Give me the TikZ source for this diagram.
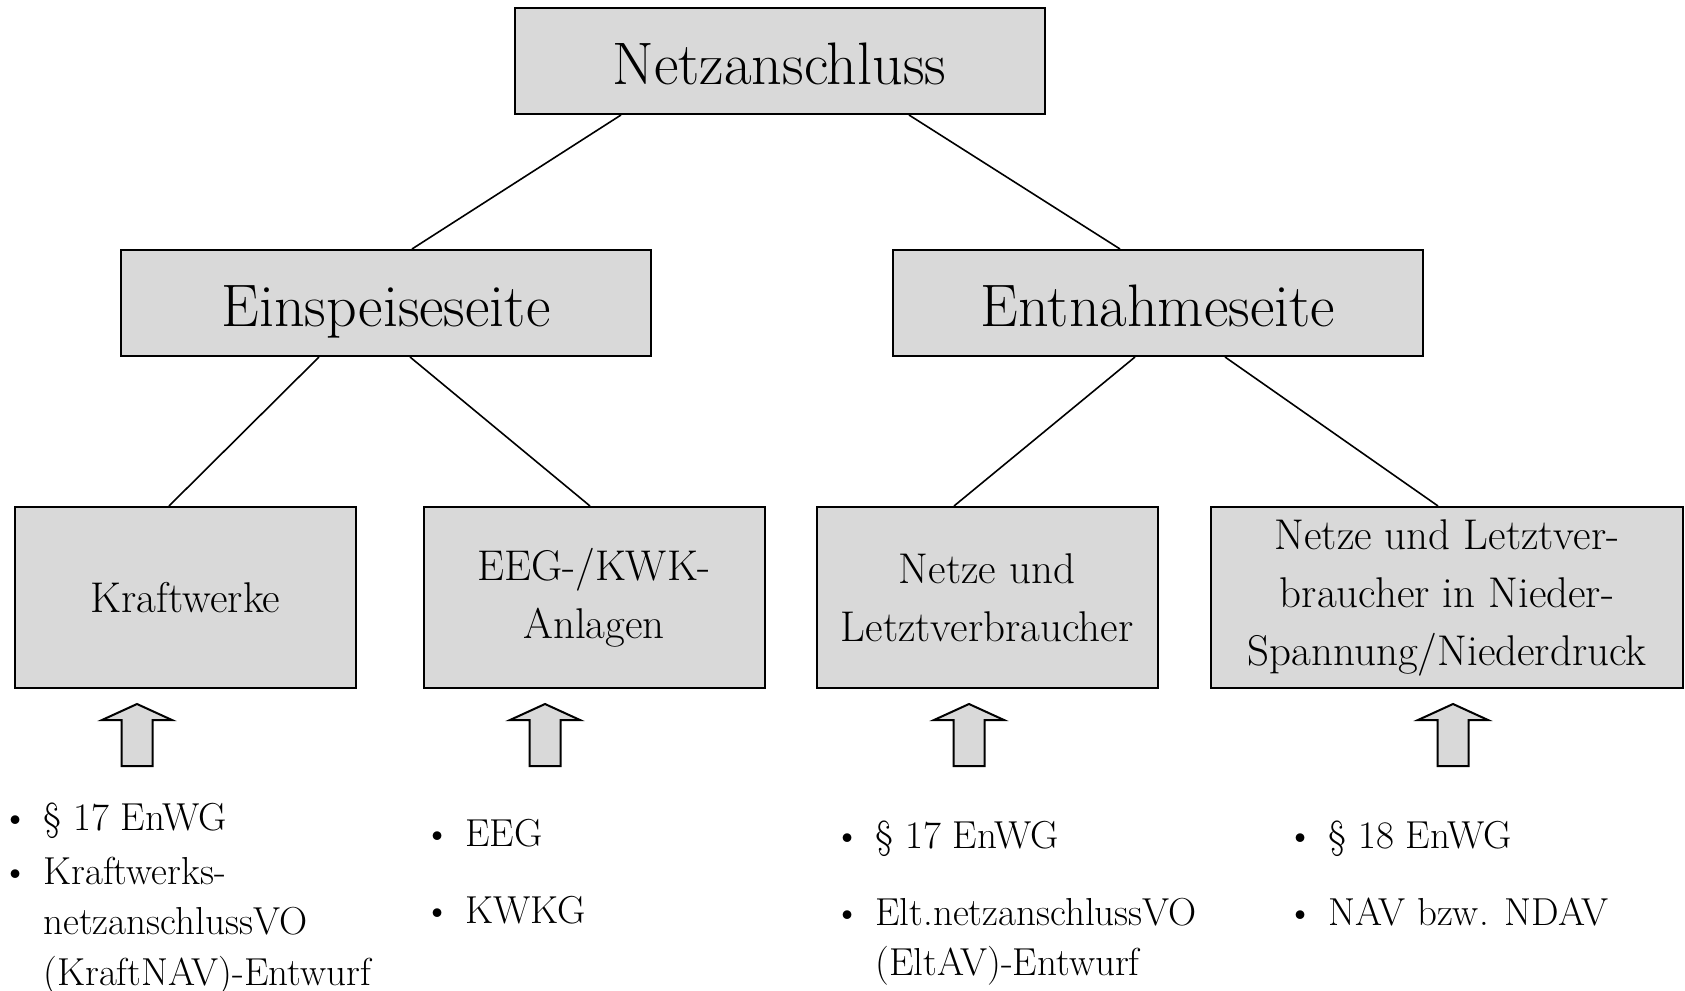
\documentclass[tikz,border=0pt]{standalone}
\usepackage{fontspec}
\begin{document}
\begin{tikzpicture}[x=0.5pt,y=-0.5pt,
  boxgray/.style={fill={rgb,255:red,217;green,217;blue,217}},
  bigbox/.style={draw, boxgray, line width=1pt, inner sep=0pt, align=center,
    minimum width=265pt, minimum height=53pt, text height=23pt, text depth=0pt,
    font=\fontsize{30}{36}\selectfont},
  smallbox/.style={draw, boxgray, line width=1pt, inner sep=0pt, align=center,
    minimum width=170.5pt, minimum height=90.5pt, font=\fontsize{21.5}{29}\selectfont},
  conn/.style={line width=0.8pt},
  uparrow/.style={draw, boxgray, line width=1pt, line join=miter},
  bul/.style={anchor=base, inner sep=0pt, font=\fontsize{19.5}{25.5}\selectfont},
  item/.style={anchor=base west, inner sep=0pt, font=\fontsize{19.5}{25.5}\selectfont}]
\useasboundingbox (0,0) rectangle (1685,990);

% boxes
\node[bigbox] (top) at (779.5,61) {Netzanschluss};
\node[bigbox] (ein) at (386,303) {Einspeiseseite};
\node[bigbox] (ent) at (1158,303) {Entnahmeseite};
\node[smallbox] (kw) at (185.5,597.5) {Kraftwerke};
\node[smallbox] (eeg) at (594,597.5) {EEG-/KWK-\\Anlagen};
\node[smallbox] (nl) at (987,597.5) {Netze und\\Letztverbraucher};
\node[smallbox, minimum width=236pt] (ns) at (1447,597.5) {Netze und Letztver-\\braucher in Nieder-\\Spannung/Niederdruck};

% connectors
\draw[conn] ([xshift=-79.25pt]top.south) -- ([xshift=13pt]ein.north);
\draw[conn] ([xshift=64.75pt]top.south) -- ([xshift=-19pt]ent.north);
\draw[conn] ([xshift=-33.5pt]ein.south) -- ([xshift=-8.25pt]kw.north);
\draw[conn] ([xshift=12pt]ein.south) -- ([xshift=-2pt]eeg.north);
\draw[conn] ([xshift=-11.5pt]ent.south) -- ([xshift=-16.5pt]nl.north);
\draw[conn] ([xshift=33.5pt]ent.south) -- ([xshift=-4.5pt]ns.north);

% up arrows
\foreach \cx in {137,545,969,1453}{
  \draw[uparrow] (\cx,704) -- (\cx+35,720) -- (\cx+15.5,720) -- (\cx+15.5,766)
    -- (\cx-15.5,766) -- (\cx-15.5,720) -- (\cx-35,720) -- cycle;
}

% lists
\node[bul] (b11) at (16,830) {\textbullet};
\node[item] (t11) at (43,830) {§ 17 EnWG};
\node[bul] (b12) at (16,884) {\textbullet};
\node[item] (t12a) at (43,884) {Kraftwerks-};
\node[item] (t12b) at (43,934.5) {netzanschlussVO};
\node[item] (t12c) at (43,985) {(KraftNAV)-Entwurf};

\node[bul] (b21) at (438,846) {\textbullet};
\node[item] (t21) at (465,846) {EEG};
\node[bul] (b22) at (438,923) {\textbullet};
\node[item] (t22) at (465,923) {KWKG};

\node[bul] (b31) at (848,848) {\textbullet};
\node[item] (t31) at (875,848) {§ 17 EnWG};
\node[bul] (b32) at (848,925) {\textbullet};
\node[item] (t32a) at (875,925) {Elt.netzanschlussVO};
\node[item] (t32b) at (875,975) {(EltAV)-Entwurf};

\node[bul] (b41) at (1301,848) {\textbullet};
\node[item] (t41) at (1328,848) {§ 18 EnWG};
\node[bul] (b42) at (1301,925) {\textbullet};
\node[item] (t42) at (1328,925) {NAV bzw. NDAV};
\end{tikzpicture}
\end{document}
